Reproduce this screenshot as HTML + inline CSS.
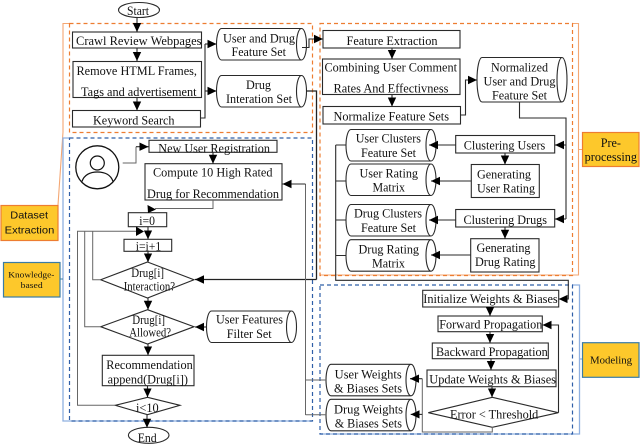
<!DOCTYPE html>
<html><head><meta charset="utf-8">
<style>
html,body{margin:0;padding:0;background:#fff;width:640px;height:444px;overflow:hidden}
svg{display:block;filter:blur(.3px)}
text{font-family:"Liberation Serif",serif;font-size:12.2px;fill:#111}
.b{fill:#fff;stroke:#2a2a2a;stroke-width:1.1}
.t{fill:none;stroke:#2a2a2a;stroke-width:1.1}
.l{fill:none;stroke:#2a2a2a;stroke-width:1.1;marker-end:url(#a)}
.g{fill:none;stroke:#666;stroke-width:1}
.k{fill:none;stroke:#222;stroke-width:1.3}
.ko{fill:none;stroke:#222;stroke-width:1.3;marker-end:url(#a)}
</style></head><body>
<svg width="640" height="444" viewBox="0 0 640 444" xmlns="http://www.w3.org/2000/svg">
<defs>
<marker id="a" markerUnits="userSpaceOnUse" markerWidth="9" markerHeight="9" refX="9" refY="4.5" orient="auto"><path d="M0,0.3L9,4.5L0,8.7Z" fill="#000"/></marker>
<g id="c"><path d="M5,0H85A5,15.75 0 0 1 85,31.5H5A5,15.75 0 0 1 5,0ZM85,0A5,15.75 0 0 0 85,31.5" fill="#fff" stroke="#2a2a2a" stroke-width="1.1"/></g>
</defs>

<!-- section frames -->
<path d="M69,23.5H63V132L58,205" fill="none" stroke="#f4a773" stroke-width="1.1"/>
<rect x="69.5" y="23.5" width="243" height="109" fill="none" stroke="#ed7d31" stroke-width="1.2" stroke-dasharray="4 3"/>
<path d="M69,138H63V421H312" fill="none" stroke="#8fb0e0" stroke-width="1.3"/>
<rect x="69.5" y="138" width="243" height="283" fill="none" stroke="#2f5fa8" stroke-width="1.2" stroke-dasharray="4 3"/>
<path d="M572,23.5H578.5V275H320M578.5,149.5H582" fill="none" stroke="#f4a773" stroke-width="1.1"/>
<rect x="320" y="23.5" width="252.5" height="252" fill="none" stroke="#ed7d31" stroke-width="1.2" stroke-dasharray="4 3"/>
<path d="M572,285H579.5V434H320M579.5,359H582.5" fill="none" stroke="#8fb0e0" stroke-width="1.3"/>
<rect x="320" y="285" width="252.5" height="149" fill="none" stroke="#2f5fa8" stroke-width="1.2" stroke-dasharray="4 3"/>
<path d="M60,279H63" fill="none" stroke="#3a7ca5" stroke-width="1"/>

<!-- label boxes -->
<rect x="1" y="205.5" width="57" height="35" fill="#fdc82b" stroke="#ed7d31" stroke-width="1.2"/>
<text x="10.3" y="218.3" textLength="37.7" lengthAdjust="spacingAndGlyphs" style="font-family:'Liberation Sans',sans-serif;font-size:10.5px">Dataset</text>
<text x="4.7" y="233.7" textLength="49.6" lengthAdjust="spacingAndGlyphs" style="font-family:'Liberation Sans',sans-serif;font-size:10.5px">Extraction</text>
<rect x="3.5" y="262.5" width="56.5" height="34.5" fill="#fdc82b" stroke="#3a7ca5" stroke-width="1.2"/>
<text x="8.3" y="277.7" textLength="46" lengthAdjust="spacingAndGlyphs" style="font-size:8.5px">Knowledge-</text>
<text x="20.7" y="288" textLength="22" lengthAdjust="spacingAndGlyphs" style="font-size:8.5px">based</text>
<rect x="582.5" y="132.5" width="56.5" height="34" fill="#fdc82b" stroke="#ed7d31" stroke-width="1.2"/>
<text x="600.7" y="147" textLength="20.3" lengthAdjust="spacingAndGlyphs">Pre-</text>
<text x="584.7" y="161" textLength="52.3" lengthAdjust="spacingAndGlyphs">processing</text>
<rect x="582.5" y="342.7" width="56.5" height="34.6" fill="#fdc82b" stroke="#3a7ca5" stroke-width="1.2"/>
<text x="590" y="363.7" textLength="42" lengthAdjust="spacingAndGlyphs" style="font-size:11px">Modeling</text>

<!-- start / end -->
<ellipse class="b" cx="139" cy="10" rx="20.5" ry="7.5"/>
<text x="127" y="15" textLength="22" lengthAdjust="spacingAndGlyphs">Start</text>
<ellipse class="b" cx="148.7" cy="435.3" rx="20.3" ry="8"/>
<text x="137.7" y="442" textLength="19" lengthAdjust="spacingAndGlyphs">End</text>

<!-- top-left boxes -->
<rect class="b" x="72.5" y="32" width="129" height="16"/>
<text x="76" y="45" textLength="125.5" lengthAdjust="spacingAndGlyphs">Crawl Review Webpages</text>
<rect class="b" x="73" y="61.5" width="128.5" height="36"/>
<text x="76.5" y="75" textLength="120.5" lengthAdjust="spacingAndGlyphs">Remove HTML Frames,</text>
<text x="81" y="96" textLength="115.5" lengthAdjust="spacingAndGlyphs">Tags and advertisement</text>
<rect class="b" x="72.5" y="110.5" width="128" height="16.5"/>
<text x="93" y="124.5" textLength="81.5" lengthAdjust="spacingAndGlyphs">Keyword Search</text>
<use href="#c" x="216.5" y="28.5"/>
<text x="223" y="42.5" textLength="72" lengthAdjust="spacingAndGlyphs">User and Drug</text>
<text x="231.5" y="56" textLength="54.5" lengthAdjust="spacingAndGlyphs">Feature Set</text>
<use href="#c" x="216.5" y="75.5"/>
<text x="246" y="89" textLength="25" lengthAdjust="spacingAndGlyphs">Drug</text>
<text x="226" y="103" textLength="66" lengthAdjust="spacingAndGlyphs">Interation Set</text>

<!-- preprocessing -->
<rect class="b" x="323" y="30.5" width="137" height="17.5"/>
<text x="346.5" y="45" textLength="91" lengthAdjust="spacingAndGlyphs">Feature Extraction</text>
<rect class="b" x="322.5" y="59" width="137.5" height="35.5"/>
<text x="324.5" y="71.7" textLength="132.5" lengthAdjust="spacingAndGlyphs">Combining User Comment</text>
<text x="333.5" y="92.5" textLength="115" lengthAdjust="spacingAndGlyphs">Rates And Effectivness</text>
<rect class="b" x="323" y="106.5" width="137.5" height="17.5"/>
<text x="333.5" y="120.5" textLength="115.5" lengthAdjust="spacingAndGlyphs">Normalize Feature Sets</text>
<path class="b" d="M482,57.5H562A5,22.25 0 0 1 562,102H482A5,22.25 0 0 1 482,57.5ZM562,57.5A5,22.25 0 0 0 562,102"/>
<text x="491" y="71.7" textLength="57" lengthAdjust="spacingAndGlyphs">Normalized</text>
<text x="483.5" y="85.7" textLength="72" lengthAdjust="spacingAndGlyphs">User and Drug</text>
<text x="492" y="99.7" textLength="55" lengthAdjust="spacingAndGlyphs">Feature Set</text>
<use href="#c" x="346" y="129.5"/>
<text x="355.7" y="142.7" textLength="65.3" lengthAdjust="spacingAndGlyphs">User Clusters</text>
<text x="361" y="157" textLength="55" lengthAdjust="spacingAndGlyphs">Feature Set</text>
<use href="#c" x="346" y="164"/>
<text x="359.5" y="177.7" textLength="58.5" lengthAdjust="spacingAndGlyphs">User Rating</text>
<text x="372.5" y="191.7" textLength="32.5" lengthAdjust="spacingAndGlyphs">Matrix</text>
<use href="#c" x="346" y="204.5"/>
<text x="354" y="217.3" textLength="68" lengthAdjust="spacingAndGlyphs">Drug Clusters</text>
<text x="361" y="232" textLength="55" lengthAdjust="spacingAndGlyphs">Feature Set</text>
<use href="#c" x="346" y="239.7"/>
<text x="358.5" y="253.7" textLength="60.5" lengthAdjust="spacingAndGlyphs">Drug Rating</text>
<text x="372" y="267.7" textLength="33" lengthAdjust="spacingAndGlyphs">Matrix</text>
<rect class="b" x="455.7" y="135.5" width="99" height="17.5"/>
<text x="463.7" y="149.7" textLength="81.6" lengthAdjust="spacingAndGlyphs">Clustering Users</text>
<rect class="b" x="471.3" y="164.5" width="68" height="33"/>
<text x="477" y="178.3" textLength="54" lengthAdjust="spacingAndGlyphs">Generating</text>
<text x="477" y="192.7" textLength="58" lengthAdjust="spacingAndGlyphs">User Rating</text>
<rect class="b" x="455.7" y="209.5" width="99" height="17.5"/>
<text x="463.5" y="224" textLength="83.5" lengthAdjust="spacingAndGlyphs">Clustering Drugs</text>
<rect class="b" x="470.7" y="238.7" width="68.3" height="33.3"/>
<text x="476.5" y="252" textLength="54" lengthAdjust="spacingAndGlyphs">Generating</text>
<text x="475" y="266" textLength="60.5" lengthAdjust="spacingAndGlyphs">Drug Rating</text>

<!-- modeling -->
<rect class="b" x="422.7" y="290.3" width="136" height="16.7"/>
<text x="423.3" y="303" textLength="134.4" lengthAdjust="spacingAndGlyphs">Initialize Weights &amp; Biases</text>
<rect class="b" x="438" y="316" width="104.3" height="15.7"/>
<text x="439.3" y="328.7" textLength="103" lengthAdjust="spacingAndGlyphs">Forward Propagation</text>
<rect class="b" x="432.3" y="343" width="116" height="15.7"/>
<text x="436" y="356" textLength="111.7" lengthAdjust="spacingAndGlyphs">Backward Propagation</text>
<rect class="b" x="427" y="370" width="129" height="16.7"/>
<text x="429.3" y="383.7" textLength="126.7" lengthAdjust="spacingAndGlyphs">Update Weights &amp; Biases</text>
<path class="b" d="M492.3,397.3L558.3,412.7L492.3,427.3L428.3,412.7Z"/>
<text x="450" y="418.3" textLength="88.3" lengthAdjust="spacingAndGlyphs">Error &lt; Threshold</text>
<use href="#c" x="326" y="364.3"/>
<text x="334.7" y="378.3" textLength="67" lengthAdjust="spacingAndGlyphs">User Weights</text>
<text x="334" y="392.7" textLength="68" lengthAdjust="spacingAndGlyphs">&amp; Biases Sets</text>
<use href="#c" x="326" y="399.3"/>
<text x="334" y="413.3" textLength="69" lengthAdjust="spacingAndGlyphs">Drug Weights</text>
<text x="334.7" y="427.3" textLength="67.3" lengthAdjust="spacingAndGlyphs">&amp; Biases Sets</text>

<!-- knowledge-based -->
<circle cx="97.3" cy="167.3" r="21.5" fill="none" stroke="#111" stroke-width="1.3"/>
<circle cx="97.3" cy="163" r="7" fill="none" stroke="#111" stroke-width="1.2"/>
<path d="M82,181.5C84,175 90,172 97.3,172C105,172 111,175 113,181.5" fill="none" stroke="#111" stroke-width="1.2"/>
<rect class="b" x="149" y="140.3" width="128" height="12"/>
<text x="158.3" y="152.3" textLength="111.7" lengthAdjust="spacingAndGlyphs">New User Registration</text>
<rect class="b" x="145" y="163.7" width="137" height="36.3"/>
<text x="153" y="176.7" textLength="119.5" lengthAdjust="spacingAndGlyphs">Compute 10 High Rated</text>
<text x="147" y="198" textLength="132" lengthAdjust="spacingAndGlyphs">Drug for Recommendation</text>
<rect class="b" x="128.3" y="212.7" width="38.4" height="14"/>
<text x="139.3" y="225" textLength="15.7" lengthAdjust="spacingAndGlyphs">i=0</text>
<rect class="b" x="124" y="239.3" width="47.7" height="12"/>
<text x="135.7" y="250.3" textLength="25.6" lengthAdjust="spacingAndGlyphs">i=i+1</text>
<path class="b" d="M147.5,262L194,279.7L147.5,298L100.7,279.7Z"/>
<text x="131.3" y="277" textLength="32.7" lengthAdjust="spacingAndGlyphs">Drug[i]</text>
<text x="123.7" y="290.3" textLength="51.3" lengthAdjust="spacingAndGlyphs">Interaction?</text>
<path class="b" d="M147.5,309.7L194,326.7L147.5,344L100.7,326.7Z"/>
<text x="132.3" y="324" textLength="32.7" lengthAdjust="spacingAndGlyphs">Drug[i]</text>
<text x="129.3" y="336.3" textLength="41.7" lengthAdjust="spacingAndGlyphs">Allowed?</text>
<rect class="b" x="102.3" y="355.3" width="91.7" height="30.4"/>
<text x="106.3" y="369" textLength="86.4" lengthAdjust="spacingAndGlyphs">Recommendation</text>
<text x="107.7" y="383.3" textLength="80.3" lengthAdjust="spacingAndGlyphs">append(Drug[i])</text>
<path class="b" d="M147.5,397.3L180,405.3L147.5,414.7L115.3,405.3Z"/>
<text x="136" y="412" textLength="22.7" lengthAdjust="spacingAndGlyphs">i&lt;10</text>
<use href="#c" x="206.5" y="311"/>
<text x="216" y="323.7" textLength="67" lengthAdjust="spacingAndGlyphs">User Features</text>
<text x="226.7" y="338" textLength="45" lengthAdjust="spacingAndGlyphs">Filter Set</text>

<!-- connectors (on top of shapes) -->
<path class="l" d="M137,17V32"/>
<path class="l" d="M137,48V61"/>
<path class="l" d="M137,97.5V110.5"/>
<path class="t" d="M200.5,118H205V44"/>
<path class="l" d="M205,44H216.5"/>
<path class="l" d="M205,91H216.5"/>
<path class="l" d="M302,47.5H309V39H323"/>
<path class="k" d="M306,91H316.5V279.5"/>
<path class="ko" d="M316.5,279.5H195"/>
<path class="l" d="M392,48V59"/>
<path class="l" d="M392,94.5V106.5"/>
<path class="l" d="M460.5,115H465.5V80H477"/>
<path class="t" d="M519.5,102V118H566V219"/>
<path class="l" d="M566,145H555"/>
<path class="l" d="M566,219H555"/>
<path class="l" d="M455.7,145H429"/>
<path class="l" d="M471,181H431"/>
<path class="l" d="M455.7,220H429"/>
<path class="l" d="M470.7,255H431"/>
<path class="l" d="M505,153V164.5"/>
<path class="l" d="M505,227V238.7"/>
<path class="t" d="M346,145H335.7M346,181H335.7M346,220H335.7M346,255.5H335.7"/>
<path class="l" d="M335.7,145V280.3H568.3V299H558.7"/>
<path class="l" d="M490,307V316"/>
<path class="l" d="M490,331.7V343"/>
<path class="l" d="M491,358.7V370"/>
<path class="l" d="M492,386.7V397.3"/>
<path class="l" d="M558.5,412.7V325H542.5"/>
<path class="g" d="M492.3,427V432H422.3V378.7"/>
<path class="l" d="M422.3,378.7H410"/>
<path class="l" d="M422.3,414.4H410.7"/>
<path class="g" d="M122.7,163H136V146.7"/>
<path class="l" d="M136,146.7H148.5"/>
<path class="l" d="M213,152V163.7"/>
<path class="g" d="M305.5,415V184"/>
<path class="l" d="M305.5,184H282.5"/>
<path class="g" d="M326,380H305.5M326,414.7H305.5"/>
<path class="g" d="M213,200V208.5H155"/>
<path d="M147.5,205L156,209.5L148,213Z" fill="#000"/>
<path class="l" d="M148,226.7V239.3"/>
<path class="l" d="M148,251.3V262.3"/>
<path class="l" d="M148,298V309.7"/>
<path class="l" d="M148,344V355.3"/>
<path class="l" d="M147.5,385.7V397.3"/>
<path class="l" d="M147,414V427.7"/>
<path class="g" d="M115.3,405.3H77.5V231.3H137"/>
<path class="g" d="M100.7,326.7H84.7V231.3"/>
<path class="g" d="M100.7,279.7H92.7V231.3"/>
<path d="M136,226.5L144,231.5L136,236Z" fill="#000"/>
<path class="l" d="M206.7,327H195"/>
</svg>
</body></html>
